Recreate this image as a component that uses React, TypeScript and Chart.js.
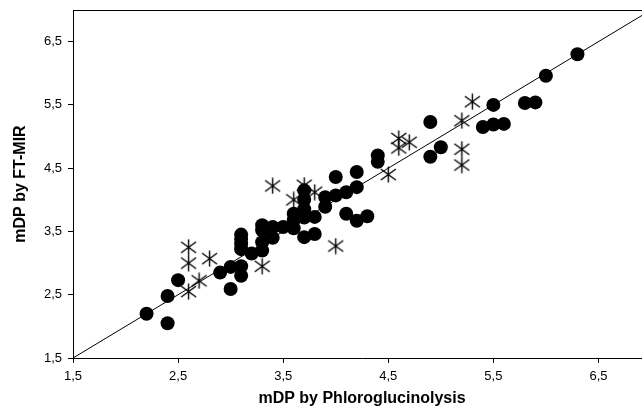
import React, { useEffect, useRef } from 'react';
import { Chart, registerables } from 'chart.js';

Chart.register(...registerables);

// Filled circles
const circleX = [2.2, 2.4, 2.4, 2.5, 2.9, 3.0, 3.0, 3.1, 3.1,
  3.1, 3.1, 3.1, 3.1, 3.2, 3.3, 3.3, 3.3, 3.3,
  3.4, 3.4, 3.5, 3.6, 3.6, 3.6, 3.7, 3.7, 3.7, 3.7,
  3.7, 3.8, 3.8, 3.9, 3.9, 4.0, 4.0, 4.1, 4.1,
  4.2, 4.3, 4.2, 4.2, 4.4, 4.4, 4.9, 4.9, 5.0,
  5.4, 5.5, 5.6, 5.5, 5.8, 5.9, 6.0, 6.3];
const circleY = [2.2, 2.05, 2.48, 2.73, 2.85, 2.94, 2.59, 2.95, 2.8,
  3.45, 3.38, 3.3, 3.22, 3.15, 3.2, 3.33, 3.6, 3.52,
  3.4, 3.57, 3.57, 3.55, 3.78, 3.68, 4.15, 4.0, 3.85, 3.72,
  3.41, 3.46, 3.73, 3.89, 4.04, 4.07, 4.36, 4.12, 3.78,
  3.67, 3.74, 4.2, 4.44, 4.7, 4.6, 5.23, 4.68, 4.83,
  5.15, 5.19, 5.2, 5.5, 5.53, 5.54, 5.96, 6.3];

// Asterisks
const starX = [2.6, 2.6, 2.6, 2.7, 2.8, 3.3, 3.4, 3.6, 3.7, 3.8, 4.0, 4.5, 4.6, 4.6, 4.7, 5.2, 5.2, 5.2, 5.3];
const starY = [3.25, 3.0, 2.55, 2.72, 3.07, 2.95, 4.22, 4.0, 4.23, 4.12, 3.27, 4.4, 4.97, 4.82, 4.91, 5.25, 4.8, 4.55, 5.55];

// 1:1 line
const lineX = [1.5, 7];
const lineY = [1.5, 7];

const xTicks = [1.5, 2.5, 3.5, 4.5, 5.5, 6.5];
const yTicks = [1.5, 2.5, 3.5, 4.5, 5.5, 6.5];
const xTitle = 'mDP by Phloroglucinolysis';
const yTitle = 'mDP by FT-MIR';

const FONT = "'Liberation Sans', Arial, sans-serif";

function makeAsterisk(): HTMLCanvasElement {
  const c = document.createElement('canvas');
  c.width = 17;
  c.height = 17;
  const g = c.getContext('2d')!;
  g.strokeStyle = '#000';
  g.lineWidth = 1.4;
  g.beginPath();
  g.moveTo(8.5, 0.5); g.lineTo(8.5, 16.5);
  g.moveTo(1, 3); g.lineTo(16, 14);
  g.moveTo(1, 14); g.lineTo(16, 3);
  g.stroke();
  return c;
}

const fmt = (v: any) => Number(v).toFixed(1).replace('.', ',');

export default function App() {
  const ref = useRef<HTMLCanvasElement>(null);

  useEffect(() => {
    if (!ref.current) return;
    const star = makeAsterisk();
    const topBorder = {
      id: 'topBorder',
      afterDraw(chart: any) {
        const { ctx, chartArea } = chart;
        ctx.save();
        ctx.strokeStyle = '#000';
        ctx.lineWidth = 1;
        ctx.beginPath();
        ctx.moveTo(chartArea.left, chartArea.top + 0.5);
        ctx.lineTo(chartArea.right, chartArea.top + 0.5);
        ctx.stroke();
        ctx.restore();
      },
    };
    const chart = new Chart(ref.current, {
      type: 'scatter',
      data: {
        datasets: [
          {
            type: 'line',
            data: lineX.map((x, i) => ({ x, y: lineY[i] })),
            borderColor: '#000',
            borderWidth: 1,
            pointRadius: 0,
            fill: false,
            order: 3,
          } as any,
          {
            data: circleX.map((x, i) => ({ x, y: circleY[i] })),
            backgroundColor: '#000',
            borderColor: '#000',
            borderWidth: 0,
            pointRadius: 7,
            order: 2,
          },
          {
            data: starX.map((x, i) => ({ x, y: starY[i] })),
            pointStyle: star as any,
            pointRadius: 8,
            order: 1,
          },
        ],
      },
      options: {
        responsive: false,
        animation: false,
        devicePixelRatio: 1,
        events: [],
        layout: { padding: { top: 10, right: 0, left: 0, bottom: 0 } },
        plugins: { legend: { display: false }, tooltip: { enabled: false } },
        scales: {
          x: {
            type: 'linear',
            min: 1.5,
            max: 7,
            afterBuildTicks: (s: any) => { s.ticks = xTicks.map((v) => ({ value: v })); },
            afterFit: (s: any) => { s.height = 60; s.paddingLeft = 0; s.paddingRight = 0; },
            ticks: { callback: fmt, color: '#000', font: { family: FONT, size: 13 }, padding: 6, maxRotation: 0 },
            grid: { drawOnChartArea: false, drawTicks: true, tickLength: 5, color: '#000' },
            border: { color: '#000', width: 1 },
            title: { display: true, text: xTitle, color: '#000', font: { family: FONT, size: 16, weight: 'bold' }, padding: { top: 0, bottom: 10 } },
          },
          y: {
            type: 'linear',
            min: 1.5,
            max: 7,
            afterBuildTicks: (s: any) => { s.ticks = yTicks.map((v) => ({ value: v })); },
            afterFit: (s: any) => { s.width = 73; s.paddingTop = 0; s.paddingBottom = 0; },
            ticks: { callback: fmt, color: '#000', font: { family: FONT, size: 13 }, padding: 6 },
            grid: { drawOnChartArea: false, drawTicks: true, tickLength: 5, color: '#000' },
            border: { color: '#000', width: 1 },
            title: { display: true, text: yTitle, color: '#000', font: { family: FONT, size: 16, weight: 'bold' }, padding: { top: 11, bottom: 0 } },
          },
        },
      },
      plugins: [topBorder],
    });
    return () => chart.destroy();
  }, []);

  return (
    <div style={{ position: 'absolute', left: 0, top: 0, width: 642, height: 418, overflow: 'hidden', background: '#fff' }}>
      <canvas ref={ref} width={660} height={418} style={{ width: 660, height: 418, display: 'block' }} />
    </div>
  );
}
